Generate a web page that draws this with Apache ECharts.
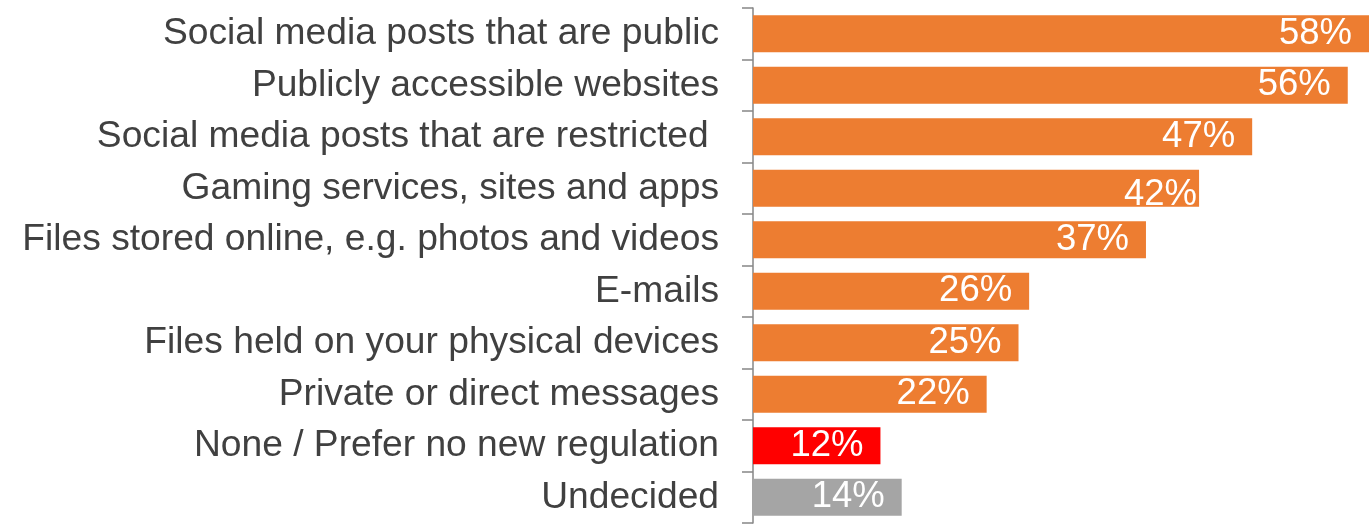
<!DOCTYPE html>
<html>
<head>
<meta charset="utf-8">
<script src="https://cdn.jsdelivr.net/npm/echarts@6/dist/echarts.min.js"></script>
<style>
  html, body { margin: 0; padding: 0; background: #ffffff; }
  #chart { width: 1370px; height: 527px; }
</style>
</head>
<body>
<div id="chart"></div>
<script>
// Types of online content people would want regulated (share of respondents, %)
const categories = [
  'Social media posts that are public',
  'Publicly accessible websites',
  'Social media posts that are restricted ',
  'Gaming services, sites and apps',
  'Files stored online, e.g. photos and videos',
  'E-mails',
  'Files held on your physical devices',
  'Private or direct messages',
  'None / Prefer no new regulation',
  'Undecided'
];
const values = [58, 56, 47, 42, 37, 26, 25, 22, 12, 14];
const barColors = ['#ED7D31', '#ED7D31', '#ED7D31', '#ED7D31', '#ED7D31',
                   '#ED7D31', '#ED7D31', '#ED7D31', '#FF0000', '#A5A5A5'];

const FONT = '"Liberation Sans", Arial, sans-serif';

const seriesData = values.map((v, i) => {
  const item = { value: v, itemStyle: { color: barColors[i] } };
  // the "Gaming" figure sits lower and further right, partly hidden past the bar edge
  if (i === 3) item.label = { offset: [15, 7] };
  return item;
});

const chart = echarts.init(document.getElementById('chart'), null, { renderer: 'canvas' });
chart.setOption({
  animation: false,
  backgroundColor: '#ffffff',
  grid: { left: 753, right: 1, top: 8, bottom: 4, containLabel: false },
  xAxis: {
    type: 'value',
    min: 0,
    max: 58,
    show: false
  },
  yAxis: {
    type: 'category',
    inverse: true,
    data: categories,
    axisLine: { show: true, lineStyle: { color: '#868686', width: 1.5 } },
    axisTick: { show: true, length: 11, lineStyle: { color: '#868686', width: 1.5 } },
    axisLabel: {
      margin: 34,
      fontFamily: FONT,
      fontSize: 37.2,
      color: '#404040',
      padding: [3, 0, 0, 0]
    },
    splitLine: { show: false }
  },
  series: [{
    type: 'bar',
    data: seriesData,
    barWidth: 37,
    label: {
      show: true,
      position: 'insideRight',
      distance: 17,
      formatter: '{c}%',
      fontFamily: FONT,
      fontSize: 36.5,
      color: '#ffffff'
    }
  }]
});
</script>
</body>
</html>
